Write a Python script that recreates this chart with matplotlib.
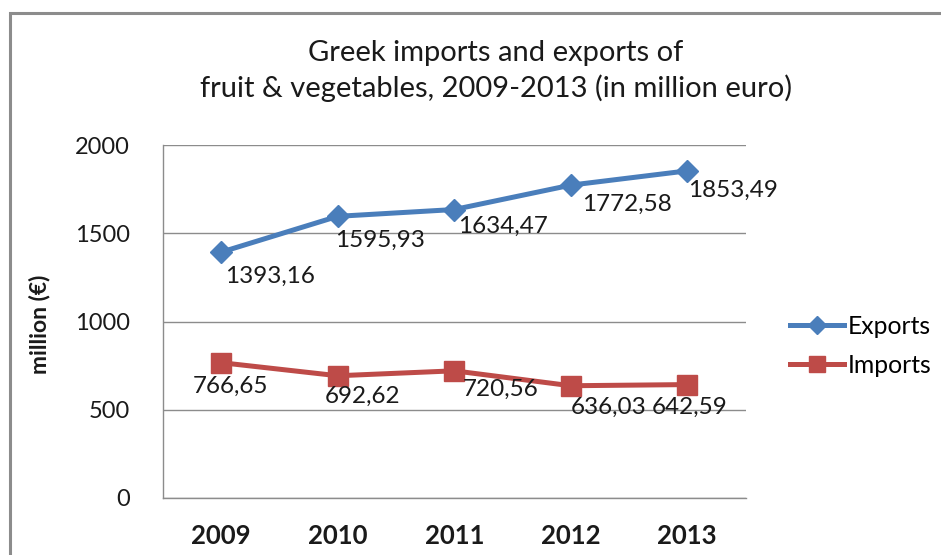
import matplotlib
matplotlib.use("Agg")
import matplotlib.pyplot as plt
from matplotlib.patches import Rectangle

# Data (million euro)
years = ["2009", "2010", "2011", "2012", "2013"]
exports = [1393.16, 1595.93, 1634.47, 1772.58, 1853.49]
imports = [766.65, 692.62, 720.56, 636.03, 642.59]

# label offsets in pixels (left edge of label relative to the point)
exp_offsets = [(4, -24), (-3, -24), (4, -17), (11, -19), (1, -19)]
imp_offsets = [(-28, -24), (-13, -21), (8, -19), (0, -22), (-36, -23)]

plt.rcParams['font.family'] = ['Lato', 'DejaVu Sans']

W, H = 941, 555
fig = plt.figure(figsize=(W / 100, H / 100), dpi=100)
fig.patch.set_facecolor("white")

# chart frame
fig.patches.append(Rectangle((10 / W, -0.1), 1.2, 1 - 13 / H + 0.1,
                             transform=fig.transFigure, fill=False,
                             edgecolor="#8c8c8c", linewidth=2.2, clip_on=False))

ax = fig.add_axes([163 / W, 1 - 498 / H, (745.5 - 163) / W, (498 - 145) / H])

blue = "#4a7ebb"
red = "#be4b48"
x = list(range(len(years)))

ax.plot(x, exports, color=blue, lw=3.6, marker="D", ms=11,
        markeredgecolor=blue, markerfacecolor=blue, label="Exports", zorder=3)
ax.plot(x, imports, color=red, lw=3.6, marker="s", ms=14,
        markeredgecolor=red, markerfacecolor=red, label="Imports", zorder=3)

fmt = lambda v: f"{v:.2f}".replace(".", ",")
for xi, v, off in zip(x, exports, exp_offsets):
    ax.annotate(fmt(v), (xi, v), xytext=off, textcoords="offset pixels",
                ha="left", va="center", fontsize=17.5, color="#1a1a1a", zorder=4)
for xi, v, off in zip(x, imports, imp_offsets):
    ax.annotate(fmt(v), (xi, v), xytext=off, textcoords="offset pixels",
                ha="left", va="center", fontsize=17.5, color="#1a1a1a", zorder=4)

ax.set_xlim(-0.5, 4.5)
ax.set_ylim(0, 2000)
ax.set_yticks([0, 500, 1000, 1500, 2000])
ax.set_xticks(x)
ax.set_xticklabels(years, fontweight="bold")
ax.tick_params(axis="y", length=0, labelsize=17, colors="#1a1a1a", pad=24)
ax.tick_params(axis="x", length=0, labelsize=18.5, colors="#1a1a1a", pad=19)
ax.grid(axis="y", color="#8c8c8c", lw=1)
ax.set_axisbelow(True)
for s in ["top", "right"]:
    ax.spines[s].set_visible(False)
for s in ["left", "bottom"]:
    ax.spines[s].set_color("#8c8c8c")
    ax.spines[s].set_linewidth(1)

fig.text(40 / W, 1 - 324 / H, "million (€)", rotation=90, ha="center",
         va="center", fontsize=16.5, fontweight="bold", color="#1a1a1a")

fig.text(496 / W, 1 - 71 / H,
         "Greek imports and exports of\nfruit & vegetables, 2009-2013 (in million euro)",
         ha="center", va="center", multialignment="center", fontsize=21,
         color="#1a1a1a", linespacing=1.35)

leg = ax.legend(loc="center left", bbox_to_anchor=(790 / W, 1 - 346 / H),
                bbox_transform=fig.transFigure, frameon=False, fontsize=17.8,
                handlelength=2.2, handletextpad=0.12, labelspacing=0.65,
                borderpad=0, borderaxespad=0, markerscale=0.85)

fig.savefig("out.png", dpi=100)
